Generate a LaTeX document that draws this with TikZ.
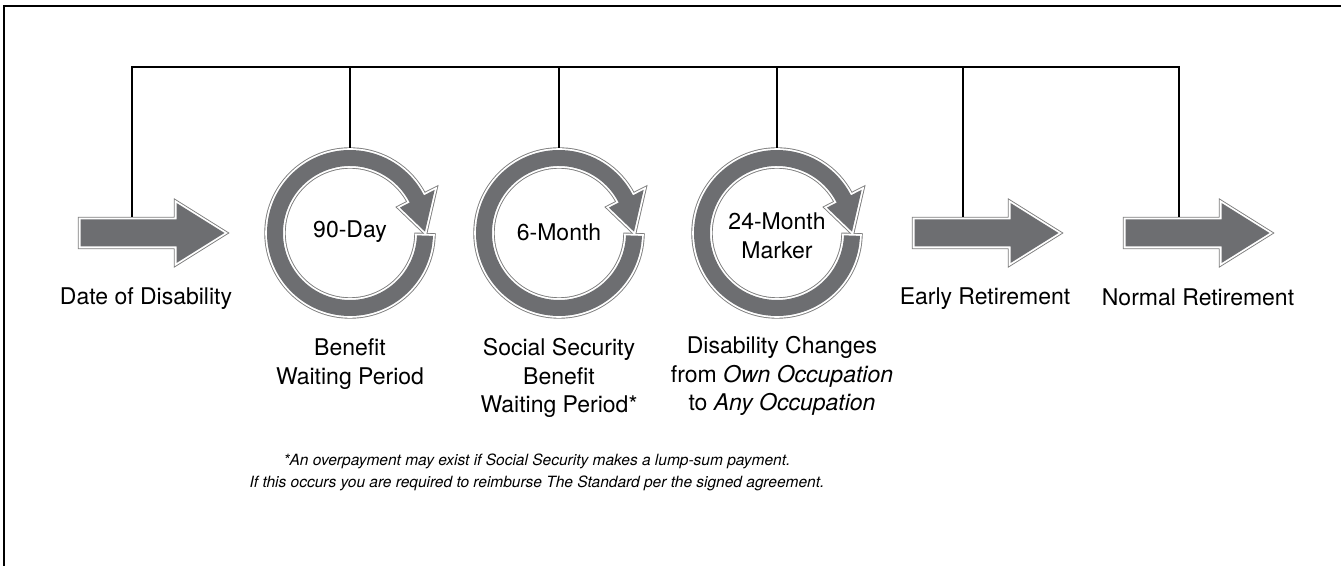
\documentclass[tikz,border=0pt]{standalone}
\usepackage{fontspec}
\setmainfont{TeX Gyre Heros}
\usetikzlibrary{positioning}

\definecolor{markgray}{RGB}{109,110,113}
\definecolor{rimgray}{RGB}{125,125,125}

\tikzset{
  rim/.style={draw=rimgray, line width=0.9pt, double=white, double distance=3.6pt, postaction={fill=markgray}},
  busline/.style={line width=1.2pt, black},
  frameline/.style={line width=1.3pt, black},
  steptext/.style={align=center, inner sep=0pt, font=\fontsize{23}{28.5}\selectfont},
  notetext/.style={align=center, inner sep=0pt, font=\fontsize{15.5}{22}\selectfont\itshape},
  timearrow/.pic={
    \path[rim] (-72,13.5) -- (24,13.5) -- (24,30) -- (72,0) -- (24,-30) -- (24,-13.5) -- (-72,-13.5) -- cycle;
    \coordinate (-top) at (#1,16);
  },
  timering/.pic={
    \path[rim] (-2:83pt) arc[start angle=-2, end angle=-333, radius=83pt] -- (27:95pt) -- (1:75pt) -- (27:56pt) -- (27:67pt)
      arc[start angle=27, end angle=358, radius=67pt] -- cycle;
    \coordinate (-top) at (0,85);
  }
}

\begin{document}
\begin{tikzpicture}[x=1pt, y=1pt]
\clip (0,0) rectangle (1341,565);
\draw[frameline] (4,-10) -- (4,559) -- (1360,559);

\pic (dd) at (152.5,332) {timearrow=-20.5};
\pic (bw) at (350,332) {timering};
\pic (ss) at (559,332) {timering};
\pic (oc) at (777,332) {timering};
\pic (er) at (986.5,332) {timearrow=-23.5};
\pic (nr) at (1197.5,332) {timearrow=-18.5};

\coordinate (bus) at (0,498);
\draw[busline] (dd-top) |- (bus -| nr-top) -- (nr-top);
\foreach \n in {bw,ss,oc,er}
  \draw[busline] (\n-top) -- (\n-top |- bus);

\node[steptext] (bwnum) at (350,333) {90-Day};
\node[steptext] (ssnum) at (559,333) {6-Month};
\node[steptext] (ocnum) at (777,329) {24-Month\\Marker};

\node[steptext] (ddtext) at (146,266) {Date of Disability};
\node[steptext] (ertext) at (985,266) {Early Retirement};
\node[steptext] (nrtext) at (1198,268) {Normal Retirement};

\node[steptext] (bwtext) at (350,201) {Benefit\\Waiting Period};
\node[steptext] (sstext) at (559,187) {Social Security\\Benefit\\Waiting Period*};
\node[steptext] (octext) at (782,189) {Disability Changes\\from \textit{Own Occupation}\\to \textit{Any Occupation}};

\node[notetext] (note) at (537,93) {*An overpayment may exist if Social Security makes a lump-sum payment.\\If this occurs you are required to reimburse The Standard per the signed agreement.};
\end{tikzpicture}
\end{document}
